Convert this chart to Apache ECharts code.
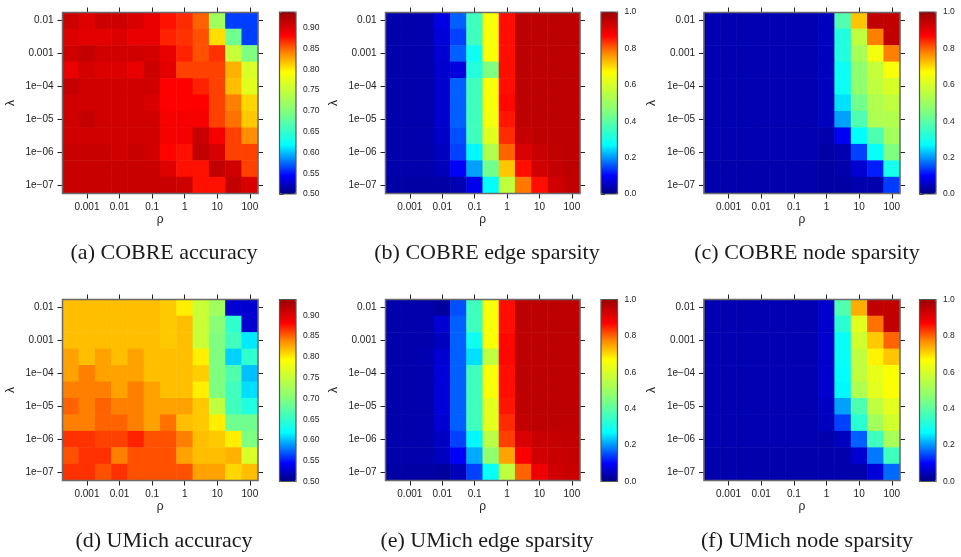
<!DOCTYPE html>
<html><head><meta charset="utf-8">
<script src="https://cdn.jsdelivr.net/npm/echarts@6/dist/echarts.min.js"></script>
<style>html,body{margin:0;padding:0;background:#fff}#c{width:961px;height:557px}</style>
</head><body><div id="c"></div>
<script>
// ---- categories (half-decade grid) ----
const rhoCategories = ['10^-3.5','0.001','10^-2.5','0.01','10^-1.5','0.1','10^-0.5','1','10^0.5','10','10^1.5','100'];
const lambdaCategories = ['0.01','10^-2.5','0.001','10^-3.5','1e-04','10^-4.5','1e-05','10^-5.5','1e-06','10^-6.5','1e-07'];

// ---- colour bar ticks ----
const accuracyTicks = [0.50,0.55,0.60,0.65,0.70,0.75,0.80,0.85,0.90];
const sparsityTicks = [0.0,0.2,0.4,0.6,0.8,1.0];
const accuracyRange = [0.5, 0.938];
const sparsityRange = [0, 1];

// ---- data: rows = lambda (top 0.01 -> bottom 1e-07), cols = rho (10^-3.5 -> 100) ----
const cobreAccuracy = [
 [0.909,0.899,0.909,0.909,0.903,0.893,0.876,0.868,0.851,0.722,0.562,0.562],
 [0.900,0.896,0.896,0.900,0.893,0.893,0.871,0.866,0.856,0.806,0.688,0.562],
 [0.907,0.914,0.907,0.907,0.907,0.905,0.893,0.871,0.856,0.866,0.752,0.697],
 [0.893,0.905,0.901,0.901,0.893,0.909,0.896,0.861,0.861,0.861,0.823,0.764],
 [0.914,0.907,0.907,0.907,0.907,0.907,0.882,0.881,0.871,0.861,0.818,0.770],
 [0.907,0.907,0.907,0.907,0.907,0.903,0.881,0.881,0.881,0.861,0.842,0.809],
 [0.907,0.914,0.907,0.907,0.907,0.907,0.886,0.886,0.886,0.861,0.846,0.814],
 [0.907,0.907,0.907,0.907,0.907,0.907,0.886,0.886,0.912,0.886,0.861,0.836],
 [0.912,0.912,0.912,0.907,0.912,0.907,0.880,0.876,0.916,0.903,0.861,0.861],
 [0.912,0.912,0.912,0.912,0.912,0.912,0.899,0.876,0.876,0.916,0.907,0.861],
 [0.912,0.912,0.912,0.912,0.912,0.912,0.912,0.909,0.876,0.876,0.916,0.903]
];
const cobreEdge = [
 [0.035,0.035,0.035,0.076,0.164,0.36,0.66,0.86,0.955,0.955,0.955,0.955],
 [0.035,0.035,0.035,0.070,0.143,0.36,0.66,0.86,0.955,0.955,0.955,0.955],
 [0.035,0.035,0.035,0.066,0.164,0.29,0.66,0.86,0.955,0.955,0.955,0.955],
 [0.035,0.035,0.035,0.060,0.075,0.32,0.45,0.86,0.955,0.955,0.955,0.955],
 [0.035,0.035,0.035,0.060,0.164,0.36,0.66,0.86,0.955,0.955,0.955,0.955],
 [0.035,0.035,0.035,0.060,0.164,0.36,0.66,0.865,0.955,0.955,0.955,0.955],
 [0.035,0.035,0.035,0.060,0.164,0.36,0.65,0.855,0.955,0.955,0.955,0.955],
 [0.035,0.035,0.035,0.058,0.153,0.36,0.617,0.84,0.945,0.955,0.955,0.955],
 [0.035,0.035,0.035,0.050,0.143,0.265,0.534,0.80,0.92,0.94,0.95,0.955],
 [0.035,0.035,0.035,0.045,0.095,0.207,0.43,0.718,0.86,0.93,0.945,0.955],
 [0.030,0.030,0.030,0.030,0.040,0.085,0.27,0.562,0.785,0.86,0.93,0.95]
];
const cobreNode = [
 [0.04,0.04,0.04,0.04,0.04,0.04,0.04,0.05,0.383,0.72,0.95,0.95],
 [0.04,0.04,0.04,0.04,0.04,0.04,0.04,0.05,0.315,0.562,0.78,0.95],
 [0.04,0.04,0.04,0.04,0.04,0.04,0.04,0.05,0.315,0.52,0.65,0.78],
 [0.04,0.04,0.04,0.04,0.04,0.04,0.04,0.05,0.285,0.48,0.57,0.66],
 [0.04,0.04,0.04,0.04,0.04,0.04,0.04,0.05,0.285,0.48,0.56,0.60],
 [0.04,0.04,0.04,0.04,0.04,0.04,0.04,0.05,0.25,0.43,0.534,0.56],
 [0.04,0.04,0.04,0.04,0.04,0.04,0.04,0.05,0.207,0.38,0.53,0.534],
 [0.04,0.04,0.04,0.04,0.04,0.04,0.04,0.035,0.09,0.27,0.38,0.51],
 [0.04,0.04,0.04,0.04,0.04,0.04,0.04,0.03,0.04,0.143,0.28,0.45],
 [0.035,0.035,0.035,0.035,0.035,0.035,0.035,0.03,0.035,0.063,0.12,0.30],
 [0.035,0.035,0.035,0.035,0.035,0.035,0.035,0.03,0.03,0.035,0.035,0.14]
];
const umichAccuracy = [
 [0.818,0.818,0.818,0.818,0.818,0.818,0.814,0.800,0.752,0.722,0.528,0.528],
 [0.818,0.818,0.818,0.818,0.818,0.818,0.814,0.818,0.752,0.704,0.648,0.528],
 [0.818,0.818,0.818,0.818,0.818,0.818,0.814,0.818,0.752,0.697,0.658,0.612],
 [0.829,0.818,0.829,0.818,0.829,0.818,0.818,0.818,0.799,0.697,0.605,0.648],
 [0.829,0.842,0.829,0.829,0.829,0.818,0.818,0.818,0.812,0.697,0.668,0.600],
 [0.842,0.842,0.842,0.829,0.842,0.829,0.818,0.818,0.799,0.697,0.658,0.609],
 [0.851,0.842,0.851,0.842,0.842,0.829,0.829,0.829,0.814,0.746,0.658,0.638],
 [0.842,0.842,0.851,0.851,0.842,0.829,0.846,0.818,0.814,0.800,0.688,0.688],
 [0.866,0.866,0.861,0.861,0.871,0.856,0.856,0.842,0.818,0.814,0.800,0.697],
 [0.856,0.866,0.866,0.842,0.856,0.856,0.856,0.829,0.818,0.818,0.823,0.764],
 [0.866,0.866,0.856,0.866,0.856,0.856,0.856,0.856,0.829,0.829,0.809,0.818]
];
const umichEdge = [
 [0.035,0.035,0.035,0.025,0.153,0.36,0.66,0.86,0.955,0.955,0.955,0.955],
 [0.035,0.035,0.035,0.063,0.164,0.36,0.66,0.86,0.955,0.955,0.955,0.955],
 [0.035,0.035,0.035,0.050,0.164,0.29,0.66,0.865,0.955,0.955,0.955,0.955],
 [0.035,0.035,0.040,0.063,0.164,0.25,0.56,0.865,0.955,0.955,0.955,0.955],
 [0.035,0.035,0.035,0.070,0.164,0.36,0.66,0.86,0.955,0.955,0.955,0.955],
 [0.035,0.035,0.035,0.070,0.164,0.36,0.66,0.86,0.955,0.955,0.955,0.955],
 [0.035,0.035,0.035,0.070,0.164,0.36,0.62,0.855,0.955,0.955,0.955,0.955],
 [0.035,0.035,0.035,0.063,0.164,0.36,0.62,0.84,0.95,0.955,0.955,0.955],
 [0.035,0.035,0.035,0.055,0.143,0.265,0.55,0.825,0.92,0.94,0.945,0.95],
 [0.035,0.035,0.035,0.050,0.095,0.215,0.48,0.75,0.875,0.93,0.94,0.945],
 [0.030,0.030,0.030,0.025,0.045,0.143,0.28,0.56,0.80,0.89,0.93,0.94]
];
const umichNode = [
 [0.04,0.04,0.04,0.04,0.04,0.04,0.04,0.06,0.383,0.74,0.95,0.95],
 [0.04,0.04,0.04,0.04,0.04,0.04,0.04,0.06,0.33,0.62,0.79,0.95],
 [0.04,0.04,0.04,0.04,0.04,0.04,0.04,0.06,0.28,0.59,0.716,0.80],
 [0.04,0.04,0.04,0.04,0.04,0.04,0.04,0.06,0.28,0.56,0.68,0.72],
 [0.04,0.04,0.04,0.04,0.04,0.04,0.04,0.06,0.27,0.56,0.63,0.665],
 [0.04,0.04,0.04,0.04,0.04,0.04,0.04,0.06,0.265,0.53,0.62,0.665],
 [0.04,0.04,0.04,0.04,0.04,0.04,0.04,0.055,0.207,0.38,0.56,0.62],
 [0.04,0.04,0.04,0.04,0.04,0.04,0.04,0.05,0.143,0.33,0.51,0.59],
 [0.04,0.04,0.04,0.04,0.04,0.04,0.04,0.035,0.05,0.164,0.36,0.52],
 [0.035,0.035,0.035,0.035,0.035,0.035,0.035,0.035,0.035,0.063,0.18,0.36],
 [0.035,0.035,0.035,0.035,0.035,0.035,0.035,0.035,0.035,0.035,0.07,0.17]
];

const captions = ['(a) COBRE accuracy','(b) COBRE edge sparsity','(c) COBRE node sparsity',
                  '(d) UMich accuracy','(e) UMich edge sparsity','(f) UMich node sparsity'];

// ---- colour palette (jet-like) ----
const paletteStops = [[0,'#00007F'],[0.10,'#0000FF'],[0.27,'#00FFFF'],[0.45,'#7FFF7F'],
                      [0.67,'#FFFF00'],[0.78,'#FF8000'],[0.87,'#FF0000'],[1,'#9A0000']];
function hex2rgb(h){return [1,3,5].map(i=>parseInt(h.substr(i,2),16));}
function buildPalette(n){
  const out=[];
  for(let k=0;k<n;k++){
    const t=k/(n-1);
    let j=0; while(j<paletteStops.length-2 && t>paletteStops[j+1][0]) j++;
    const [t0,c0]=paletteStops[j],[t1,c1]=paletteStops[j+1];
    const u=(t-t0)/(t1-t0), a=hex2rgb(c0), b=hex2rgb(c1);
    const c=a.map((v,i)=>Math.round(v+(b[i]-v)*u));
    out.push('rgb('+c.join(',')+')');
  }
  return out;
}
const palette = buildPalette(201);

// ---- layout ----
const plotCols = [{x:62.5,w:195.5},{x:385.5,w:194.5},{x:704,w:196}];
const barCols = [279.5,601,919.5];
const rowTops = [{plotY:12.5,plotH:181,barY:12,barH:182,capY:253},{plotY:299.5,plotH:181,barY:299.5,barH:182,capY:541}];
const capX = [164,487,807];

const datasets = [cobreAccuracy,cobreEdge,cobreNode,umichAccuracy,umichEdge,umichNode];
const font = 'Liberation Sans';
const grids=[],xAxes=[],yAxes=[],series=[],visualMaps=[],graphics=[];

datasets.forEach((mat,p)=>{
  const r=Math.floor(p/3), c=p%3;
  const isAcc = (c===0);
  const range = isAcc?accuracyRange:sparsityRange;
  const ticks = isAcc?accuracyTicks:sparsityTicks;
  const dec = isAcc?2:1;
  const pc=plotCols[c], rt=rowTops[r];
  const gPlot=grids.length;
  grids.push({left:pc.x,top:rt.plotY,width:pc.w,height:rt.plotH,show:true,borderColor:'#6a6a6a',borderWidth:1.5,backgroundColor:'transparent',z:3});
  const gBar=grids.length;
  grids.push({left:barCols[c],top:rt.barY,width:16.5,height:rt.barH,show:true,borderColor:'#555',borderWidth:1.2,backgroundColor:'transparent',z:10});

  const xTick={show:true,alignWithLabel:true,length:5,interval:(i)=>i%2===1,lineStyle:{color:'#222',width:1}};
  const yTick={show:true,alignWithLabel:true,length:5,interval:(i)=>i%2===0,lineStyle:{color:'#222',width:1}};
  const xi=xAxes.length;
  xAxes.push({type:'category',gridIndex:gPlot,data:rhoCategories,position:'bottom',
    axisLine:{show:false},axisTick:xTick,splitLine:{show:false},
    axisLabel:{interval:(i)=>i%2===1,fontSize:10,color:'#222',fontFamily:font,margin:9},
    name:'ρ',nameLocation:'middle',nameGap:18,nameTextStyle:{fontSize:12,color:'#222',fontFamily:font}});
  xAxes.push({type:'category',gridIndex:gPlot,data:rhoCategories,position:'top',
    axisLine:{show:false},axisTick:xTick,axisLabel:{show:false},splitLine:{show:false}});
  xAxes.push({type:'value',gridIndex:gBar,min:0,max:1,show:false});
  const yi=yAxes.length;
  yAxes.push({type:'category',gridIndex:gPlot,data:lambdaCategories,inverse:true,position:'left',
    axisLine:{show:false},axisTick:yTick,splitLine:{show:false},
    axisLabel:{interval:(i)=>i%2===0,fontSize:10,color:'#222',fontFamily:font,margin:9,
      formatter:(v)=>v.replace('-','\u2212')},
    name:'λ',nameLocation:'middle',nameGap:46,nameTextStyle:{fontSize:12,color:'#222',fontFamily:font}});
  yAxes.push({type:'category',gridIndex:gPlot,data:lambdaCategories,inverse:true,position:'right',
    axisLine:{show:false},axisTick:yTick,axisLabel:{show:false},splitLine:{show:false}});
  yAxes.push({type:'value',gridIndex:gBar,position:'right',min:range[0],max:range[1],
    axisLine:{show:false},splitLine:{show:false},
    axisTick:{show:true,length:4,customValues:ticks,lineStyle:{color:'#333'}},
    axisLabel:{customValues:ticks,formatter:(v)=>v.toFixed(dec),fontSize:8.5,color:'#222',fontFamily:font,margin:7}});

  const data=[];
  mat.forEach((row,ri)=>row.forEach((v,ci)=>data.push([ci,ri,v])));
  series.push({type:'heatmap',xAxisIndex:xi,yAxisIndex:yi,data:data,progressive:0,
    itemStyle:{borderWidth:0},emphasis:{disabled:true},silent:true});
  visualMaps.push({type:'continuous',seriesIndex:p,min:range[0],max:range[1],calculable:false,hoverLink:false,
    inRange:{color:palette},orient:'vertical',itemWidth:16.5,itemHeight:rt.barH,
    left:barCols[c],top:rt.barY,padding:0,show:true});
  graphics.push({type:'text',x:capX[c],y:rt.capY,silent:true,
    style:{text:captions[p],font:'22px "Liberation Serif"',fill:'#1a1a1a',align:'center',verticalAlign:'middle'}});
});

const chart = echarts.init(document.getElementById('c'),null,{renderer:'canvas'});
chart.setOption({animation:false,backgroundColor:'#fff',grid:grids,xAxis:xAxes,yAxis:yAxes,
  visualMap:visualMaps,series:series,graphic:graphics});
</script></body></html>
